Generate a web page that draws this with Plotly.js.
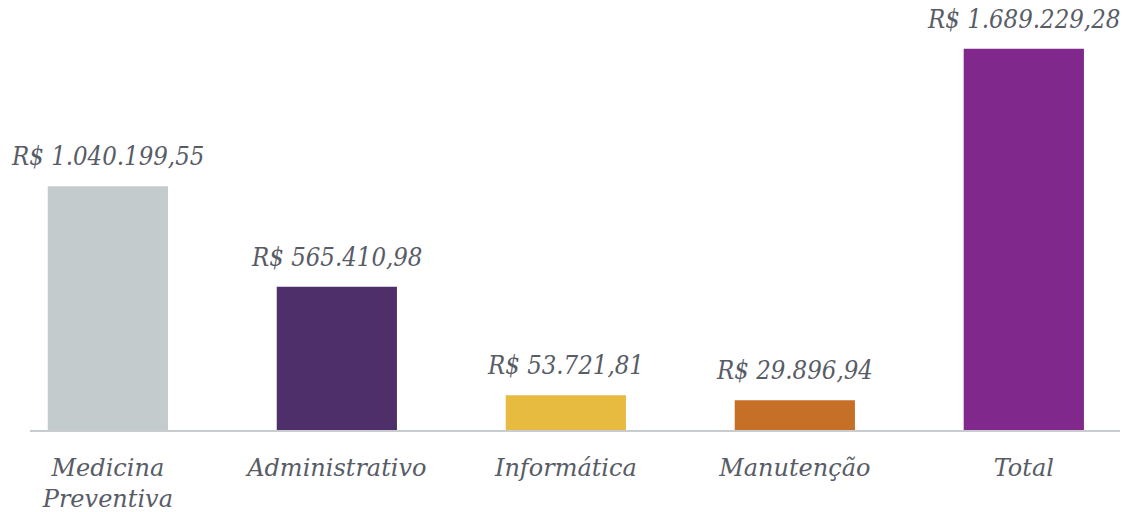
<!DOCTYPE html>
<html>
<head>
<meta charset="utf-8">
<script src="https://cdn.plot.ly/plotly-3.0.1.min.js"></script>
<style>html,body{margin:0;padding:0;background:#fff;}#chart{width:1123px;height:512px;}</style>
</head>
<body>
<div id="chart"></div>
<script>
const categories = ["Medicina<br>Preventiva", "Administrativo", "Informática", "Manutenção", "Total"];
const values = [1040199.55, 565410.98, 53721.81, 29896.94, 1689229.28];
const valueLabels = ["R$ 1.040.199,55", "R$ 565.410,98", "R$ 53.721,81", "R$ 29.896,94", "R$ 1.689.229,28"];
const barColors = ["#c4cbcd", "#4e2f69", "#e6bb40", "#c66f27", "#80288c"];

const FLOOR = -110000;
const FONT_C = "DejaVu Serif Condensed, DejaVu Serif, serif";
const FONT_R = "DejaVu Serif, serif";
const TXT = "#585c66";
const xs = categories.map((c, i) => i);

const trace = {
  type: "bar",
  x: xs,
  y: values.map(v => v - FLOOR),
  base: values.map(() => FLOOR),
  width: 0.525,
  marker: {color: barColors},
  hoverinfo: "skip"
};

const annotations = values.map((v, i) => ({
  x: i, y: v, xref: "x", yref: "y",
  text: "<i>" + valueLabels[i] + "</i>",
  showarrow: false, yanchor: "bottom", yshift: 13,
  font: {family: FONT_C, size: 25.5, color: TXT}
}));

const layout = {
  width: 1123, height: 512,
  margin: {l: 30, r: 3, t: 10, b: 82},
  paper_bgcolor: "#ffffff", plot_bgcolor: "#ffffff",
  showlegend: false,
  xaxis: {
    range: [-0.34, 4.42],
    tickvals: xs,
    ticktext: categories.map(c => "<i>" + c + "</i>"),
    tickfont: {family: FONT_R, size: 24, color: TXT},
    showline: true, linecolor: "#c9cccf", linewidth: 2,
    ticks: "outside", ticklen: 15, tickcolor: "rgba(0,0,0,0)",
    showgrid: false, zeroline: false, fixedrange: true
  },
  yaxis: {
    range: [FLOOR, 1871800],
    visible: false, showgrid: false, zeroline: false, fixedrange: true
  },
  annotations: annotations
};

Plotly.newPlot("chart", [trace], layout, {displayModeBar: false, staticPlot: true});
</script>
</body>
</html>
